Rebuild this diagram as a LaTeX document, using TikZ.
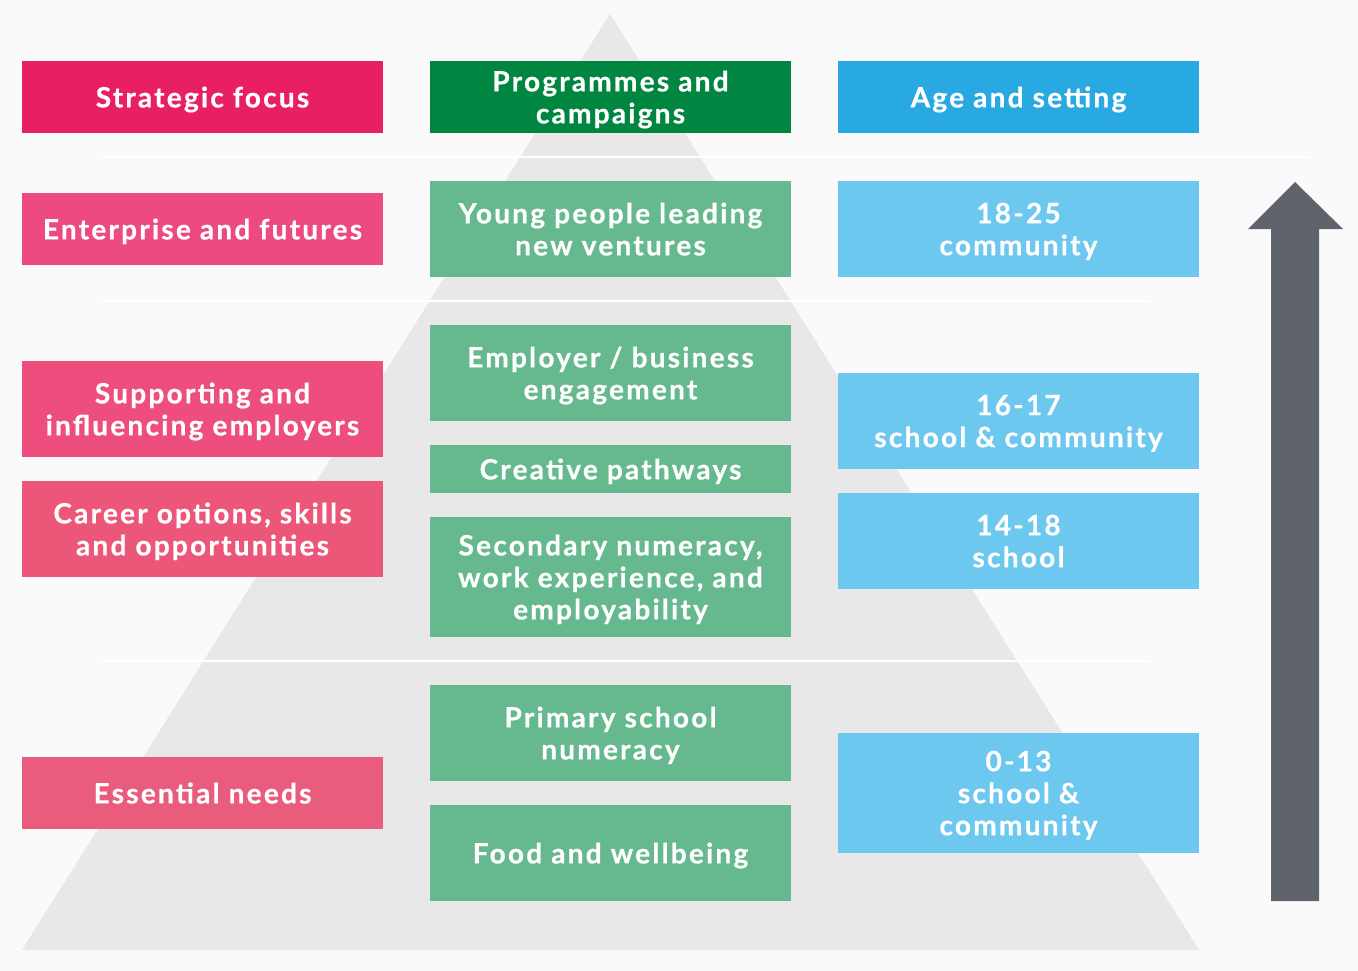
\documentclass[tikz,border=0pt]{standalone}
\usepackage{fontspec}
\setmainfont{Lato}[LetterSpace=8, BoldFeatures={FakeBold=0.6}]
\definecolor{bgc}{HTML}{FAFAFA}
\definecolor{pyr}{HTML}{E8E8E8}
\definecolor{pkA}{HTML}{E81F63}
\definecolor{pkB}{HTML}{EC4A80}
\definecolor{pkC}{HTML}{ED4E7E}
\definecolor{pkD}{HTML}{EB5679}
\definecolor{pkE}{HTML}{E95C7E}
\definecolor{gnA}{HTML}{008641}
\definecolor{gnB}{HTML}{66B98E}
\definecolor{blA}{HTML}{29A9E1}
\definecolor{blB}{HTML}{6CC8EF}
\definecolor{arr}{HTML}{5F636B}
\begin{document}
\begin{tikzpicture}[x=1pt,y=-1pt,
  box/.style={rectangle, inner sep=0pt, text=white, align=center, text depth=0pt,
    minimum width=361pt, font=\fontsize{28}{32}\selectfont\bfseries},
  sep/.style={draw=white, line width=2.5pt}]
% canvas
\fill[bgc] (0,0) rectangle (1358,971);
\useasboundingbox (0,0) rectangle (1358,971);
% pyramid
\fill[pyr] (610,14) -- (1199,950) -- (22,950) -- cycle;
% tier separators
\draw[sep] (100,157) -- (1310,157);
\draw[sep] (100,301) -- (1150,301);
\draw[sep] (100,661) -- (1150,661);
% strategic focus column
\node[box, fill=pkA, minimum height=72pt] (sf) at (202.5,97) {Strategic focus};
\node[box, fill=pkB, minimum height=72pt] (ef) at (202.5,229) {Enterprise and futures};
\node[box, fill=pkC, minimum height=96pt] (si) at (202.5,409) {Supporting and\\influencing employers};
\node[box, fill=pkD, minimum height=96pt] (co) at (202.5,529) {Career options, skills\\and opportunities};
\node[box, fill=pkE, minimum height=72pt] (en) at (202.5,793) {Essential needs};
% programmes column
\node[box, fill=gnA, minimum height=72pt] (pc) at (610.5,97) {Programmes and\\campaigns};
\node[box, fill=gnB, minimum height=96pt] (yp) at (610.5,229) {Young people leading\\new ventures};
\node[box, fill=gnB, minimum height=96pt] (eb) at (610.5,373) {Employer / business\\engagement};
\node[box, fill=gnB, minimum height=48pt] (cp) at (610.5,469) {Creative pathways};
\node[box, fill=gnB, minimum height=120pt] (sn) at (610.5,577) {Secondary numeracy,\\work experience, and\\employability};
\node[box, fill=gnB, minimum height=96pt] (ps) at (610.5,733) {Primary school\\numeracy};
\node[box, fill=gnB, minimum height=96pt] (fw) at (610.5,853) {Food and wellbeing};
% age column
\node[box, fill=blA, minimum height=72pt] (as) at (1018.5,97) {Age and setting};
\node[box, fill=blB, minimum height=96pt] (a1) at (1018.5,229) {18-25\\community};
\node[box, fill=blB, minimum height=96pt] (a2) at (1018.5,421) {16-17\\school \& community};
\node[box, fill=blB, minimum height=96pt] (a3) at (1018.5,541) {14-18\\school};
\node[box, fill=blB, minimum height=120pt] (a4) at (1018.5,793) {0-13\\school \&\\community};
% progression arrow
\fill[arr] (1271,901) -- (1271,229) -- (1248,229) -- (1295,182) -- (1343,229)
  -- (1319,229) -- (1319,901) -- cycle;
\end{tikzpicture}
\end{document}
